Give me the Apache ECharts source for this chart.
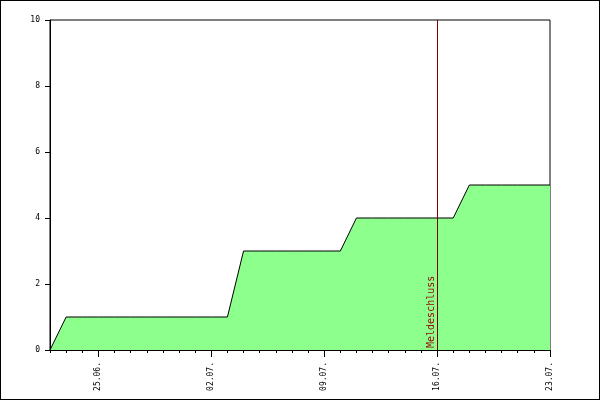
<!DOCTYPE html>
<html>
<head>
<meta charset="utf-8">
<script src="https://cdn.jsdelivr.net/npm/echarts@6/dist/echarts.min.js"></script>
<style>
html,body{margin:0;padding:0;background:#fff;}
#c{width:600px;height:400px;box-sizing:border-box;border:1px solid #000;}
</style>
</head>
<body>
<div id="c"></div>
<script>
const dates = ['22.06.','23.06.','24.06.','25.06.','26.06.','27.06.','28.06.','29.06.','30.06.','01.07.','02.07.','03.07.','04.07.','05.07.','06.07.','07.07.','08.07.','09.07.','10.07.','11.07.','12.07.','13.07.','14.07.','15.07.','16.07.','17.07.','18.07.','19.07.','20.07.','21.07.','22.07.','23.07.'];
const values = [0,1,1,1,1,1,1,1,1,1,1,1,3,3,3,3,3,3,3,4,4,4,4,4,4,4,5,5,5,5,5,5];
const labelDates = ['25.06.','02.07.','09.07.','16.07.','23.07.'];
const deadline = '16.07.';
const deadlineLabel = 'Meldeschluss';
const yTicks = [0,2,4,6,8,10];

const font = 'DejaVu Sans Mono';
const isLabel = (i) => labelDates.indexOf(dates[i]) >= 0;
const chart = echarts.init(document.getElementById('c'));
chart.setOption({
  animation: false,
  grid: {left: 49, right: 49, top: 19, bottom: 49, show: true, borderColor: '#000', borderWidth: 1, backgroundColor: 'transparent'},
  xAxis: [{
    type: 'category', data: dates, boundaryGap: false,
    axisLine: {lineStyle: {color: '#000', width: 1}},
    axisTick: {show: true, length: 7, interval: (i) => isLabel(i), lineStyle: {color: '#000'}},
    axisLabel: {interval: (i) => isLabel(i), rotate: 90, fontFamily: font, fontSize: 8, color: '#000', margin: 12},
    splitLine: {show: false}
  }, {
    type: 'category', data: dates, boundaryGap: false, position: 'bottom',
    axisLine: {show: false},
    axisTick: {show: true, length: 3, interval: 0, lineStyle: {color: '#000'}},
    axisLabel: {show: false},
    splitLine: {show: false}
  }],
  yAxis: {
    type: 'value', min: yTicks[0], max: yTicks[yTicks.length-1], interval: 2,
    axisLine: {show: true, lineStyle: {color: '#000'}},
    axisTick: {show: true, length: 5, lineStyle: {color: '#000'}},
    axisLabel: {fontFamily: font, fontSize: 8, color: '#000', margin: 10},
    splitLine: {show: false}
  },
  series: [{
    type: 'line', data: values, symbol: 'none', z: 2,
    lineStyle: {color: '#000', width: 1},
    areaStyle: {color: '#8cff8c', opacity: 1},
    markLine: {
      silent: true, symbol: ['none','none'],
      lineStyle: {color: '#800000', width: 1, type: 'solid'},
      label: {show: true, formatter: deadlineLabel, position: 'insideStartTop', color: '#990000', fontFamily: font, fontSize: 10, distance: [2, 1]},
      data: [{xAxis: deadline}]
    }
  }]
});
</script>
</body>
</html>
